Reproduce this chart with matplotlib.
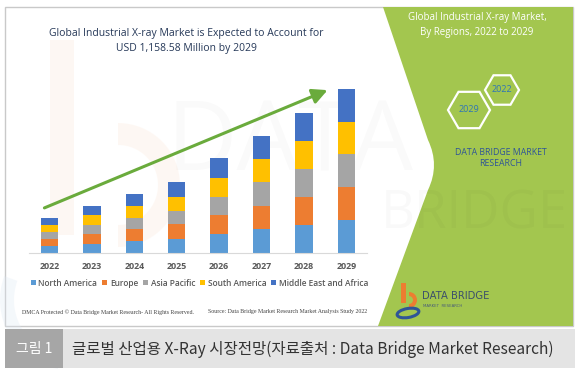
import numpy as np
import matplotlib
matplotlib.use("Agg")
import matplotlib.pyplot as plt
from matplotlib.patches import Rectangle, RegularPolygon, PathPatch, Ellipse, Wedge
from matplotlib.path import Path

# -------------------------------
# data (USD million)
# -------------------------------
years = ["2022", "2023", "2024", "2025", "2026", "2027", "2028", "2029"]
regions = ["North America", "Europe", "Asia Pacific", "South America", "Middle East and Africa"]
north_america = [54, 68, 84, 101, 134, 169, 199, 234]
europe = [49, 68, 87, 103, 136, 164, 199, 232]
asia_pacific = [49, 63, 80, 94, 127, 169, 197, 232]
south_america = [47, 70, 82, 101, 134, 164, 195, 225]
middle_east_africa = [49, 63, 87, 103, 139, 160, 199, 234]
colors = ["#5B9BD5", "#ED7D31", "#A5A5A5", "#FFC000", "#4472C4"]

title = "Global Industrial X-ray Market is Expected to Account for\nUSD 1,158.58 Million by 2029"
caption = "글로벌 산업용 X-Ray 시장전망(자료출처 : Data Bridge Market Research)"

W, H = 580, 376
fig = plt.figure(figsize=(W / 100, H / 100), dpi=100)

# full-figure axes in pixel units (y down) for the decoration
deco = fig.add_axes([0, 0, 1, 1])
deco.set_xlim(0, W)
deco.set_ylim(H, 0)
deco.axis("off")

# outer frame
deco.add_patch(Rectangle((5, 7), 568, 319, facecolor="white", edgecolor="#c9c9c9", lw=1.0, zorder=0))

# very faint watermark logo on the left
deco.add_patch(Rectangle((50, 40), 24, 195, facecolor="#fbe3d2", alpha=0.25, lw=0, zorder=1))
deco.add_patch(Wedge((118, 185), 62, -90, 90, width=22, facecolor="#fbe3d2", alpha=0.25, lw=0, zorder=1))
deco.add_patch(Wedge((70, 300), 70, 100, 200, width=14, facecolor="#dde8f4", alpha=0.3, lw=0, zorder=1))
deco.text(290, 145, "DATA", fontsize=70, color="#000000", alpha=0.018, ha="center", va="center",
          family="Open Sans", zorder=1)
deco.text(475, 215, "BRIDGE", fontsize=38, color="#000000", alpha=0.025, ha="center", va="center",
          family="Open Sans", zorder=3)

# green panel on the right
verts = [(383, 7), (573, 7), (573, 326), (378, 326), (428, 190), (440, 165), (428, 140), (383, 7)]
codes = [Path.MOVETO, Path.LINETO, Path.LINETO, Path.LINETO, Path.LINETO, Path.CURVE3, Path.CURVE3, Path.CLOSEPOLY]
deco.add_patch(PathPatch(Path(verts, codes), facecolor="#a3c64f", edgecolor="none", zorder=2))

deco.text(477, 25, "Global Industrial X-ray Market,\nBy Regions, 2022 to 2029", color="white",
          fontsize=7.0, ha="center", va="center", family="Open Sans", linespacing=1.45, zorder=4)

deco.add_patch(RegularPolygon((502, 90), 6, radius=17, orientation=np.pi / 2, facecolor="none",
                              edgecolor="white", lw=1.6, zorder=4))
deco.add_patch(RegularPolygon((469, 110), 6, radius=21, orientation=np.pi / 2, facecolor="none",
                              edgecolor="white", lw=1.6, zorder=4))
deco.text(502, 90, "2022", color="#2e75b6", fontsize=6.5, ha="center", va="center", family="Open Sans", zorder=5)
deco.text(469, 110, "2029", color="#2e75b6", fontsize=6.5, ha="center", va="center", family="Open Sans", zorder=5)
deco.text(501, 158, "DATA BRIDGE MARKET\nRESEARCH", color="#2f5597", fontsize=6.3, ha="center",
          va="center", family="Open Sans", linespacing=1.35, zorder=5)

# small logo at the bottom of the panel
deco.add_patch(Rectangle((401, 283), 5, 20, facecolor="#ed7d31", lw=0, zorder=5))
deco.add_patch(Wedge((409, 300), 8, -90, 90, width=4, facecolor="#ed7d31", lw=0, zorder=5))
deco.add_patch(Ellipse((408, 313), 22, 9, angle=-10, facecolor="none", edgecolor="#2f5597", lw=2.2, zorder=5))
deco.text(422, 296, "DATA BRIDGE", color="#3b4f6b", fontsize=7.2, ha="left", va="center",
          family="Liberation Sans Narrow", zorder=5)
deco.text(423, 306, "MARKET  RESEARCH", color="#4a5d78", fontsize=2.8, ha="left", va="center",
          family="DejaVu Sans", zorder=5)

# footer notes
deco.text(22, 312, "DMCA Protected © Data Bridge Market Research- All Rights Reserved.", fontsize=4.2,
          color="#404040", ha="left", va="center", family="Liberation Serif", zorder=5)
deco.text(208, 312, "Source: Data Bridge Market Research Market Analysis Study 2022", fontsize=4.2,
          color="#404040", ha="left", va="center", family="Liberation Serif", zorder=5)

# title
deco.text(186, 41, title, color="#253858", fontsize=7.5, ha="center", va="center",
          family="Open Sans", linespacing=1.5, zorder=5)

# caption bar
deco.add_patch(Rectangle((5, 329), 58, 39, facecolor="#a6a6a6", lw=0, zorder=1))
deco.add_patch(Rectangle((63, 329), 512, 39, facecolor="#e4e4e4", lw=0, zorder=1))
deco.text(34, 349, "그림 1", color="white", fontsize=10, ha="center", va="center",
          family=["Noto Sans CJK KR", "DejaVu Sans"], zorder=5)
deco.text(72, 349, caption, color="#333333", fontsize=11.2, ha="left", va="center", fontweight="light",
          family=["Noto Sans CJK KR", "DejaVu Sans"], zorder=5)

# -------------------------------
# stacked bar chart
# -------------------------------
base_px = 253.3
ax = fig.add_axes([29 / W, (H - base_px) / H, (367 - 29) / W, 184.7 / H])
ax.patch.set_alpha(0)
ax.set_zorder(6)
x = np.arange(len(years))
series = [north_america, europe, asia_pacific, south_america, middle_east_africa]
bottom = np.zeros(len(years))
handles = []
for name, vals, c in zip(regions, series, colors):
    b = ax.bar(x, vals, width=0.41, bottom=bottom, color=c, label=name)
    handles.append(b)
    bottom += np.array(vals)

ax.set_xlim(-0.483, 7.49)
ax.set_ylim(0, 1300)
for s in ["top", "right", "left"]:
    ax.spines[s].set_visible(False)
ax.spines["bottom"].set_color("#d9d9d9")
ax.set_yticks([])
ax.set_xticks(x)
ax.set_xticklabels(years, fontsize=6.4, fontweight="bold", color="#595959", family="Open Sans")
ax.tick_params(axis="x", length=0, pad=6.5)

# trend arrow
ax.annotate("", xy=(6.62, 1156), xytext=(-0.18, 312),
            arrowprops=dict(arrowstyle="-|>,head_length=0.9,head_width=0.45", color="#6aab3c", lw=2.2))

leg = fig.legend(handles=handles, loc="center", bbox_to_anchor=(199.5 / W, (H - 283) / H), ncol=5,
                 frameon=False, fontsize=6.0, handlelength=0.6, handleheight=0.6, handletextpad=0.3,
                 columnspacing=0.6, borderpad=0)
for t in leg.get_texts():
    t.set_color("#595959")
    t.set_fontweight("semibold")
    t.set_family("Open Sans")

fig.savefig("out.png", dpi=100)
